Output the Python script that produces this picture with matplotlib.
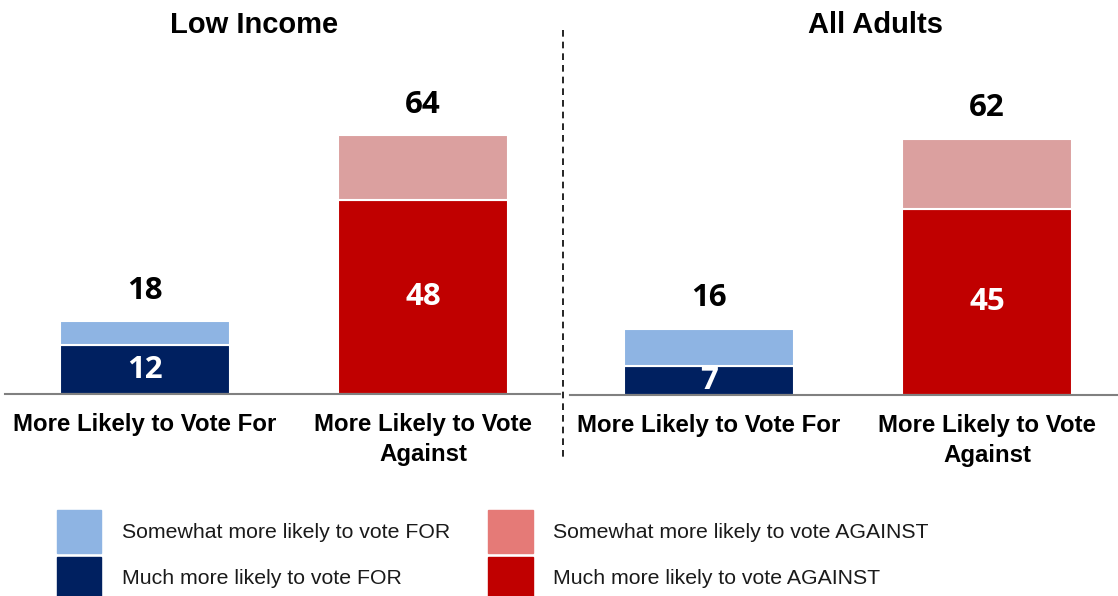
import matplotlib.pyplot as plt
from matplotlib.patches import Rectangle
from matplotlib.lines import Line2D

# data
categories = ['More Likely to Vote For', 'More Likely to Vote\nAgainst']
panels = ['Low Income', 'All Adults']
much = {'Low Income': [12, 48], 'All Adults': [7, 45]}
total = {'Low Income': [18, 64], 'All Adults': [16, 62]}

much_colors = ['#002060', '#C00000']
some_colors = ['#8EB4E3', '#DBA09F']
legend_labels = ['Somewhat more likely to vote FOR', 'Much more likely to vote FOR',
                 'Somewhat more likely to vote AGAINST', 'Much more likely to vote AGAINST']
legend_colors = ['#8EB4E3', '#002060', '#E57A77', '#C00000']

W, H = 1118, 596
fig = plt.figure(figsize=(W / 100, H / 100), dpi=100)

def fx(px):
    return px / W

def fy(py):
    return 1 - py / H

# axes layout (pixels): left, right, baseline, xlim, ylim
layout = {
    'Low Income': dict(l=5, r=560, base=394, xlim=(-0.504, 1.493), ymax=89.9, title_x=254),
    'All Adults': dict(l=570, r=1118, base=395, xlim=(-0.5, 1.471), ymax=88.4, title_x=875),
}

num_font = 'Open Sans'
txt_font = 'Liberation Sans'

for p in panels:
    lo = layout[p]
    ax = fig.add_axes([fx(lo['l']), fy(lo['base']), fx(lo['r'] - lo['l']), (lo['base'] - 30) / H])
    x = [0, 1]
    m = much[p]
    s = [t - v for t, v in zip(total[p], m)]
    ax.bar(x, m, width=0.611, color=much_colors, edgecolor='white', linewidth=1.5)
    ax.bar(x, s, bottom=m, width=0.611, color=some_colors, edgecolor='white', linewidth=1.5)
    for xi, v, t in zip(x, m, total[p]):
        ax.text(xi, v / 2, str(v), ha='center', va='center', color='white',
                fontsize=22.5, fontweight='bold', family=num_font)
        ax.text(xi, t + 7.4, str(t), ha='center', va='center', color='black',
                fontsize=22.5, fontweight='bold', family=num_font)
    ax.set_xlim(*lo['xlim'])
    ax.set_ylim(0, lo['ymax'])
    ax.set_xticks(x)
    ax.set_xticklabels(categories, fontsize=17.3, fontweight='bold', family=txt_font,
                       linespacing=1.35)
    ax.tick_params(axis='x', length=0, pad=14)
    ax.set_yticks([])
    for sp in ['top', 'right', 'left']:
        ax.spines[sp].set_visible(False)
    ax.spines['bottom'].set_color('#808080')
    ax.spines['bottom'].set_linewidth(1.5)
    fig.text(fx(lo['title_x']), fy(25), p, ha='center', va='center',
             fontsize=21, fontweight='bold', family=txt_font)

# dashed divider
fig.add_artist(Line2D([fx(563), fx(563)], [fy(30), fy(460)], color='black',
                      linestyle=(0, (4, 3)), linewidth=1.2))

# legend
rows = [(510, 553, 532), (557, 596, 579)]
cols = [(57, 101, 122), (488, 533, 553)]
for i, (lab, col) in enumerate(zip(legend_labels, legend_colors)):
    c = cols[i // 2]
    r = rows[i % 2]
    fig.add_artist(Rectangle((fx(c[0]), fy(r[1])), fx(c[1] - c[0]), (r[1] - r[0]) / H,
                             color=col, transform=fig.transFigure))
    fig.text(fx(c[2]), fy(r[2]), lab, ha='left', va='center',
             fontsize=15.3, family=txt_font, color='#1a1a1a')

fig.savefig('out.png', dpi=100)
